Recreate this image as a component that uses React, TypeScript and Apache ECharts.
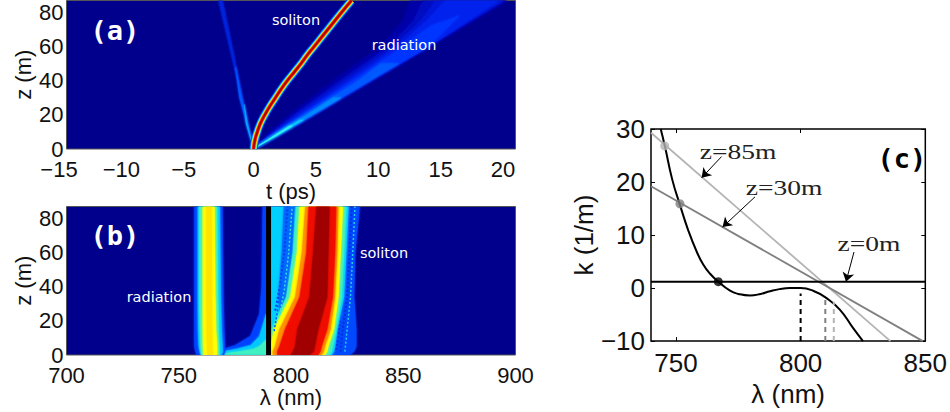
import React, { useEffect, useRef } from "react";
import * as echarts from "echarts";

const tTicks = [-15, -10, -5, 0, 5, 10, 15, 20];
const lambdaTicksB = [700, 750, 800, 850, 900];
const zTicks = [0, 20, 40, 60, 80];
const lambdaTicksC = [750, 800, 850];
const kTicks = [-10, 0, 10, 20, 30];

// Panel (a): soliton track [t, z]
const solitonTrack = [[0, 0], [0.1, 5], [0.3, 10], [0.55, 15], [0.9, 20], [1.3, 25], [1.75, 30], [2.2, 35], [2.7, 40], [3.25, 45], [3.8, 50], [4.3, 55], [4.85, 60], [5.4, 65], [5.95, 70], [6.5, 75], [7.05, 80], [7.85, 87]];
const solitonLayers = [
  ["#0038f0", 8.5], ["#00a0ff", 7], ["#30f0d0", 6], ["#f0f020", 5], ["#ff9000", 4], ["#ee1000", 3], ["#a00000", 1.4],
];
// Panel (a): radiation and left ray as [t, z] outlines
const radiationA: [string, number[][]][] = [
  ["#0000a8", [[0, 0], [1.3, 10], [2.9, 20], [6.4, 40], [10.2, 60], [12, 75], [12.6, 87], [20.3, 87], [14, 60], [9.3, 40], [4.7, 20], [2.3, 10]]],
  ["#0008c0", [[0, 0], [1.5, 10], [3.2, 20], [6.9, 40], [10.8, 60], [12.8, 75], [13.6, 87], [20.2, 87], [14, 60], [9.3, 40], [4.7, 20], [2.3, 10]]],
  ["#0014d8", [[0, 0], [1.6, 10], [3.4, 20], [7.3, 40], [11.2, 60], [13.4, 75], [14.6, 87], [20, 87], [14, 60], [9.3, 40], [4.7, 20], [2.3, 10]]],
  ["#0024ec", [[0, 0], [1.8, 10], [3.7, 20], [7.7, 40], [11.6, 60], [13.9, 75], [15.4, 87], [19.6, 87], [14, 60], [9.3, 40], [4.7, 20], [2.3, 10]]],
  ["#0034ff", [[0.2, 1], [1.9, 10], [3.9, 20], [8, 40], [12, 60], [14.2, 72], [16.5, 78], [14, 60], [9.3, 40], [4.7, 20], [2.3, 10]]],
  ["#0058ff", [[0.2, 1], [2, 10], [4.1, 20], [8.4, 40], [10.2, 50], [11.6, 50], [9.3, 40], [4.7, 20], [2.3, 10]]],
  ["#0088ff", [[0.2, 1], [2.1, 10], [4.3, 20], [6.4, 30], [7, 30], [4.7, 20], [2.3, 10]]],
  ["#10c0ff", [[0.2, 1], [2.15, 10], [3.7, 17], [4, 17], [2.3, 10]]],
  ["#30f0f0", [[0.2, 1], [1.7, 8], [2.9, 13.5], [3.1, 13.5], [1.9, 8]]],
];
const leftRay: [string, number[][]][] = [
  ["#0020d8", [[0, 0], [-2.8, 87], [-2.5, 87]]],
  ["#0058ff", [[0, 0], [-0.95, 30], [-1.45, 48], [-1.12, 30]]],
  ["#10a0ff", [[0, 0], [-0.5, 15], [-0.75, 26], [-0.6, 15]]],
];

// Panel (b): spectral bands, left and right edges (nm) at each z
const zLevels = [0, 2, 5, 15, 34, 60, 87];
const bandsB: [string, number[], number[]][] = [
  ["#0040ff", [758, 757.5, 757, 757, 757, 757, 757], [770, 770.5, 770.5, 770.2, 769.8, 769.6, 769.4]],
  ["#00c8ff", [760, 759.5, 759, 758.7, 758.6, 758.6, 758.6], [769, 769.5, 769.4, 769, 768.6, 768.4, 768.2]],
  ["#40f0c0", [760.2, 760, 759.8, 759.5, 759.3, 759.3, 759.3], [768, 768, 768, 767.7, 767.4, 767.2, 767]],
  ["#ffff00", [761, 761, 760.9, 760.8, 760.8, 760.8, 760.8], [767, 767, 767, 766.5, 766.2, 766, 765.8]],
  ["#ffe400", [763, 762.8, 762.6, 762.5, 762.4, 762.4, 762.4], [765, 765, 764.9, 764.8, 764.7, 764.6, 764.5]],
  ["#0048ff", [791, 791, 791, 791, 791, 791, 791], [826, 828, 829, 829, 828, 828.5, 830.5]],
  ["#00d0ff", [791, 791, 791, 791, 791, 791, 791], [818, 819, 819.5, 820.5, 823.5, 824.5, 825.5]],
  ["#0068ff", [797, 797, 797, 796, 794.5, 796, 797], [797, 797, 797, 796, 798, 800.5, 801.5]],
  ["#40f0c0", [791, 791, 791, 791.5, 798, 801, 802.5], [817, 818, 818.5, 820, 822.5, 823.5, 824.5]],
  ["#ffff00", [791, 791, 791, 792.5, 799.8, 802.8, 804], [815, 816, 816.5, 819, 821, 822, 823]],
  ["#ff9000", [792, 792, 793, 795, 802, 805, 806.5], [813.5, 814.5, 815, 817.5, 819.5, 820.5, 821]],
  ["#f01000", [794, 794, 795, 797.5, 804, 807, 808], [812, 813, 813.5, 816, 818.5, 819.5, 820]],
  ["#a00000", [800, 801, 802, 803, 808.4, 810, 811.5], [808, 810, 810.5, 812, 816, 816.5, 817]],
];
const streakB: [string, number[][]][] = [
  ["#0040ff", [[787.5, 87], [789, 87], [789, 0], [768, 0], [770, 3.5], [775, 5.5], [782, 11], [786, 24], [787, 40]]],
  ["#00c8ff", [[789, 24], [789, 0], [767, 0], [770, 2], [776, 3.5], [782, 5.5], [786, 11]]],
  ["#40f0c0", [[789, 9], [789, 0.5], [769, 0.5], [776, 1.8], [783, 3.2], [786, 5]]],
];
const spectrumBar = [[790, 0], [790, 87]];
// Fine interference fringes beside the soliton lobe, as stippled tracks [nm, m]
const fringeTracks: [string, number, number[][]][] = [
  ["#0040e8", 2, [[793, 26], [795, 40], [797, 60], [798.5, 87]]],
  ["#30e0e0", 1.5, [[795, 24], [797, 38], [799, 60], [800.5, 87]]],
  ["#0050ff", 1.5, [[792.5, 14], [794, 26], [795, 42]]],
  ["#0030d8", 2, [[822, 2], [823, 15], [825, 34], [826, 60], [827, 87]]],
  ["#20d0e8", 1.5, [[824, 2], [825, 15], [826.5, 34], [827.5, 60], [828.5, 87]]],
  ["#0030d8", 1.5, [[820, 3], [821, 10], [822, 20]]],
];

// Panel (c): dispersion curve and phase-matching lines [nm, 1/m]
const dispersion = [[743.9, 30], [745.6, 26.7], [748.5, 20.5], [751.6, 15.7], [755, 10.8], [758.3, 6.9], [761, 4.4], [763.7, 2.7], [767, 1.2], [771.7, -0.5], [775, -1.1], [779.7, -1.4], [784, -1.1], [787.7, -0.6], [791.5, -0.2], [795.7, 0], [800, 0], [805, -0.5], [810.4, -1.9], [815.8, -4.1], [821, -7.5], [825, -10]];
const lineZ0 = [[740, 1.2], [850, 1.2]];
const lineZ30 = [[740, 19.2], [849, -10]];
const lineZ85 = [[740, 29.3], [836, -10]];
const dotsC: [string, number[]][] = [["#000000", [767, 1.2]], ["#808080", [751.6, 15.9]], ["#b4b4b4", [745.5, 26.8]]];
const dashesC: [string, number[][]][] = [
  ["#000000", [[800, -10], [800, -1]]],
  ["#808080", [[809.9, -10], [809.9, -1.6]]],
  ["#b4b4b4", [[813.3, -10], [813.3, -2.6]]],
];
const arrowsC = [
  [[768.3, 24.8], [760.3, 20.8]],
  [[781.7, 17.2], [768.7, 11.5]],
  [[821.4, 6.8], [818.2, 1.2]],
];

const sans = "Liberation Sans";
const mono = "DejaVu Sans Mono";
const serif = "Liberation Serif";
const neg = (v: number) => (v < 0 ? `{n|\u2212${Math.abs(v)}}` : `{p|${v}}`);

function polygons(name: string, xi: number, list: [string, number[][]][], blur = 0) {
  return {
    type: "custom", name, xAxisIndex: xi, yAxisIndex: xi, clip: true, silent: true,
    data: list.map((_, i) => [i]),
    renderItem: (p: any, api: any) => {
      const [fill, pts] = list[p.dataIndex];
      const style: any = { fill, stroke: fill, lineWidth: 0.6 };
      if (blur) { style.shadowBlur = blur; style.shadowColor = fill; }
      return { type: "polygon", shape: { points: pts.map((q) => api.coord(q)) }, style };
    },
  };
}
const line = (xi: number, data: number[][], color: string, width: number, smooth = false, extra: any = {}) => ({
  type: "line", xAxisIndex: xi, yAxisIndex: xi, data, smooth, showSymbol: false, symbol: "none", silent: true,
  lineStyle: { color, width, cap: "butt", ...extra }, z: 3,
});

const txt = (text: string, x: number, y: number, size: number, fill: string, family: string, weight = "normal", scaleX = 1) => ({
  type: "text", x, y, scaleX, z: 20, silent: true,
  style: { text, fontSize: size, fontFamily: family, fontWeight: weight, fill, align: "center", verticalAlign: "middle" },
});

function xAxisOf(gridIndex: number, min: number, max: number, ticks: number[], name: string, size: number, gap: number, margin: number) {
  return {
    type: "value", gridIndex, min, max, name, nameLocation: "middle", nameGap: gap,
    nameTextStyle: { fontFamily: sans, fontSize: size, color: "#111" },
    splitLine: { show: false }, axisLine: { show: false, onZero: false }, axisTick: { show: false },
    axisLabel: { customValues: ticks, formatter: neg, margin, color: "#111", fontFamily: sans, fontSize: size, rich: { n: { fontFamily: sans, fontSize: size, color: "#111", padding: [0, 15, 0, 0] }, p: { fontFamily: sans, fontSize: size, color: "#111" } } },
  };
}
function yAxisOf(gridIndex: number, min: number, max: number, ticks: number[], name: string, size: number, gap: number, margin: number) {
  return {
    type: "value", gridIndex, min, max, name, nameLocation: "middle", nameGap: gap,
    nameTextStyle: { fontFamily: sans, fontSize: size, color: "#111" },
    splitLine: { show: false }, axisLine: { show: false, onZero: false }, axisTick: { show: false },
    axisLabel: { customValues: ticks, margin, color: "#111", fontFamily: sans, fontSize: size, formatter: (v: number) => (v < 0 ? `\u2212${-v}` : `${v}`) },
  };
}
const mirror = (gridIndex: number, position: string, range: number[], ticks: number[]) => ({
  type: "value", gridIndex, position, min: range[0], max: range[1], splitLine: { show: false }, axisLabel: { show: false },
  axisLine: { show: false, onZero: false },
  axisTick: { show: true, inside: true, length: 4, customValues: ticks, lineStyle: { color: "#000", width: 1 } },
});

export default function App() {
  const ref = useRef<HTMLDivElement>(null);
  useEffect(() => {
    const chart = echarts.init(ref.current!, undefined, { renderer: "svg" });
    const bPolys: [string, number[][]][] = [
      ...bandsB.map(([c, l, r]) => [c, [...zLevels.map((z, i) => [l[i], z]), ...zLevels.map((z, i) => [r[i], z]).reverse()]] as [string, number[][]]),
    ];
    const navy = "#00008c";
    chart.setOption({
      animation: false,
      backgroundColor: "#ffffff",
      grid: [
        { left: 66.5, top: 0.5, width: 449, height: 148.5, show: true, backgroundColor: navy, borderColor: "#555", borderWidth: 1 },
        { left: 66.5, top: 206.5, width: 449, height: 148.5, show: true, backgroundColor: navy, borderColor: "#555", borderWidth: 1 },
        { left: 651, top: 129, width: 274.7, height: 215, show: true, backgroundColor: "#fff", borderColor: "#000", borderWidth: 1.5 },
      ],
      xAxis: [
        xAxisOf(0, -15, 21, tTicks, "t (ps)", 22, 31, 9),
        xAxisOf(1, 700, 900, lambdaTicksB, "\u03bb (nm)", 22, 31, 9),
        { ...xAxisOf(2, 740, 850, lambdaTicksC, "\u03bb (nm)", 26, 33, 9), axisTick: { show: true, inside: true, length: 4, customValues: lambdaTicksC, lineStyle: { color: "#000", width: 1 } } },
        mirror(2, "top", [740, 850], lambdaTicksC),
      ],
      yAxis: [
        yAxisOf(0, 0, 87, zTicks, "z (m)", 22, 32, 3),
        yAxisOf(1, 0, 87, zTicks, "z (m)", 22, 32, 3),
        { ...yAxisOf(2, -10, 30, kTicks, "k (1/m)", 26, 50, 6), axisTick: { show: true, inside: true, length: 4, customValues: kTicks, lineStyle: { color: "#000", width: 1 } } },
        mirror(2, "right", [-10, 30], kTicks),
      ],
      series: [
        polygons("leftRay", 0, leftRay, 2),
        polygons("radiationA", 0, radiationA, 3),
        ...solitonLayers.map(([c, w]) => line(0, solitonTrack, c as string, w as number, true)),
        polygons("streakB", 1, streakB, 2),
        polygons("bandsB", 1, bPolys, 2),
        ...fringeTracks.map(([c, w, d]) => line(1, d, c, w, false, { type: [2, 2] })),
        line(1, spectrumBar, "#000", 5),
        line(2, lineZ85, "#b4b4b4", 1.8),
        line(2, lineZ30, "#808080", 1.8),
        line(2, lineZ0, "#000", 2),
        line(2, dispersion, "#000", 2, true),
        ...dashesC.map(([c, d]) => line(2, d, c, 2, false, { type: [5, 4] })),
        ...dotsC.map(([c, d]) => ({
          type: "scatter", xAxisIndex: 2, yAxisIndex: 2, data: [d], symbol: "circle", symbolSize: 9, silent: true, itemStyle: { color: c }, z: 5,
        })),
        {
          type: "lines", coordinateSystem: "cartesian2d", xAxisIndex: 2, yAxisIndex: 2, silent: true, z: 6,
          symbol: ["none", "arrow"], symbolSize: 9,
          lineStyle: { color: "#000", width: 1, opacity: 1 },
          data: arrowsC.map((coords) => ({ coords })),
        },
      ],
      graphic: [
        txt("(a)", 115, 30, 27, "#fff", mono, "bold"),
        txt("(b)", 115, 235, 27, "#fff", mono, "bold"),
        txt("soliton", 296, 20, 14.5, "#fff", "DejaVu Sans"),
        txt("radiation", 404, 45, 14.5, "#fff", "DejaVu Sans"),
        txt("radiation", 159, 297, 14.5, "#fff", "DejaVu Sans"),
        txt("soliton", 384, 253, 14.5, "#fff", "DejaVu Sans"),
        txt("(c)", 902, 158, 27, "#000", mono, "bold"),
        txt("z=85m", 738, 151, 22, "#222", serif, "normal", 1.25),
        txt("z=30m", 784, 187, 22, "#222", serif, "normal", 1.25),
        txt("z=0m", 869, 243, 22, "#222", serif, "normal", 1.25),
      ],
    });
    return () => chart.dispose();
  }, []);
  return <div ref={ref} style={{ position: "absolute", left: 0, top: 0, width: 950, height: 412 }} />;
}
